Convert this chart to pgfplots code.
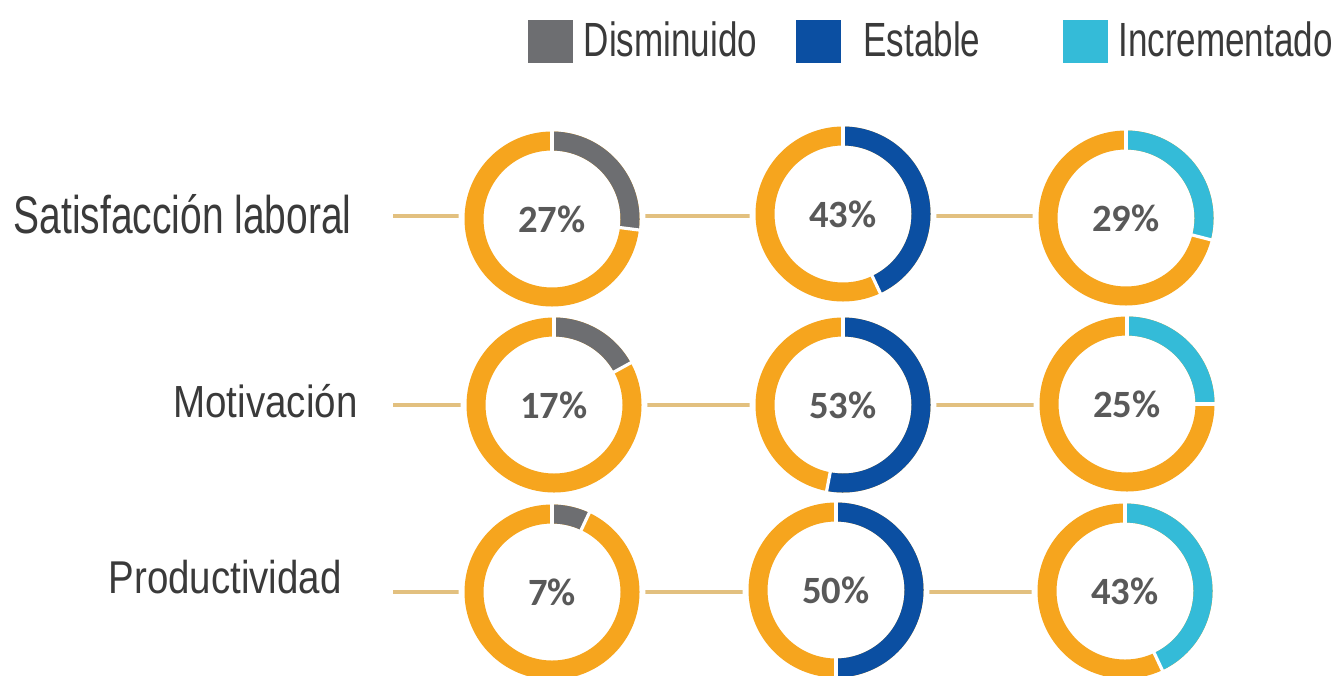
\documentclass[border=0pt]{standalone}
\usepackage{pgfplots}
\pgfplotsset{compat=1.18}
\usepackage{pgfplotstable}
\usepackage{graphicx}
\usepackage{fontspec}
\setmainfont{Liberation Sans}
\newfontfamily\pctfont{Carlito}
\definecolor{ringorange}{HTML}{F6A51E}
\definecolor{dimin}{HTML}{6D6E71}
\definecolor{estab}{HTML}{0B4FA2}
\definecolor{incr}{HTML}{34BBD8}
\definecolor{pcttext}{HTML}{595959}
\definecolor{lbltext}{HTML}{3A3A3A}
\definecolor{linktan}{HTML}{E2C07F}

\pgfdeclareplotmark{emptymark}{}

\newcommand{\donut}[2]{%
  \edef\dpct{#1}%
  \fill[white] (0,0) circle[radius=46.5pt];
  \draw[line width=9.5pt, ringorange] (0,0) circle[radius=39pt];
  \draw[line width=9.5pt, #2] (90:39pt) arc[start angle=90, end angle={90-3.6*\dpct}, radius=39pt];
  \draw[white, line width=1.6pt] (90:33pt) -- (90:45pt);
  \draw[white, line width=1.6pt] ({90-3.6*\dpct}:33pt) -- ({90-3.6*\dpct}:45pt);
  \node[inner sep=0pt, text=pcttext, font=\pctfont\bfseries\fontsize{19.3pt}{20pt}\selectfont] at (0,0) {\dpct\%};
}

% donut centres (x, y in picture pixels, y downwards) and percentage
\pgfplotstableread{
x y pct
552 219 27
554 405 17
552 592 7
}\tdis
\pgfplotstableread{
x y pct
843 214 43
843 405 53
836 590 50
}\test
\pgfplotstableread{
x y pct
1126 218 29
1127 404 25
1125 591 43
}\tinc

\pgfplotsset{donutplot/.style={scatter, only marks, mark=emptymark,
  point meta=explicit symbolic,
  scatter/@pre marker code/.code={\donut{\pgfplotspointmeta}{#1}},
  scatter/@post marker code/.code={},
  legend image code/.code={\fill[#1] (0pt,-10.5pt) rectangle (22pt,10.5pt);}}}

\begin{document}
\begin{tikzpicture}
\begin{axis}[name=ax, width=667.5pt, height=337.5pt, scale only axis,
  xmin=0, xmax=1335, ymin=0, ymax=675, y dir=reverse, hide axis, clip=false,
  legend style={at={(axis cs:528,41)}, anchor=west, draw=none, fill=none,
    inner sep=0pt, outer sep=0pt, legend columns=3,
    font=\fontsize{24pt}{24pt}\selectfont,
    nodes={inner sep=0pt},
    /tikz/every odd column/.style={column sep=5.5pt}},
  legend cell align=left]
\addplot[linktan, line width=1.8pt, forget plot] coordinates {(393,216) (1126,216)};
\addplot[linktan, line width=1.8pt, forget plot] coordinates {(393,405) (1126,405)};
\addplot[linktan, line width=1.8pt, forget plot] coordinates {(393,592) (1126,592)};

\addplot[donutplot=dimin] table[x=x, y=y, meta=pct] {\tdis};
\addlegendentry{\makebox[106pt][l]{\textcolor{lbltext}{\scalebox{0.73}[1]{Disminuido}}}}

\addplot[donutplot=estab] table[x=x, y=y, meta=pct] {\test};
\addlegendentry{\makebox[105.5pt][l]{\hspace{6pt}\textcolor{lbltext}{\scalebox{0.73}[1]{Estable}}}}

\addplot[donutplot=incr] table[x=x, y=y, meta=pct] {\tinc};
\addlegendentry{\textcolor{lbltext}{\scalebox{0.73}[1]{Incrementado}}}

\node[anchor=base east, inner sep=0pt, text=lbltext] at (axis cs:352,233)
  {\scalebox{0.735}[1]{\fontsize{26.5pt}{27pt}\selectfont Satisfacción laboral}};
\node[anchor=base east, inner sep=0pt, text=lbltext] at (axis cs:358,417)
  {\scalebox{0.856}[1]{\fontsize{22.5pt}{23pt}\selectfont Motivación}};
\node[anchor=base east, inner sep=0pt, text=lbltext] at (axis cs:342,593)
  {\scalebox{0.836}[1]{\fontsize{23pt}{24pt}\selectfont Productividad}};
\end{axis}
\pgfresetboundingbox
\path[use as bounding box] (ax.south west) rectangle (ax.north east);
\end{tikzpicture}
\end{document}
